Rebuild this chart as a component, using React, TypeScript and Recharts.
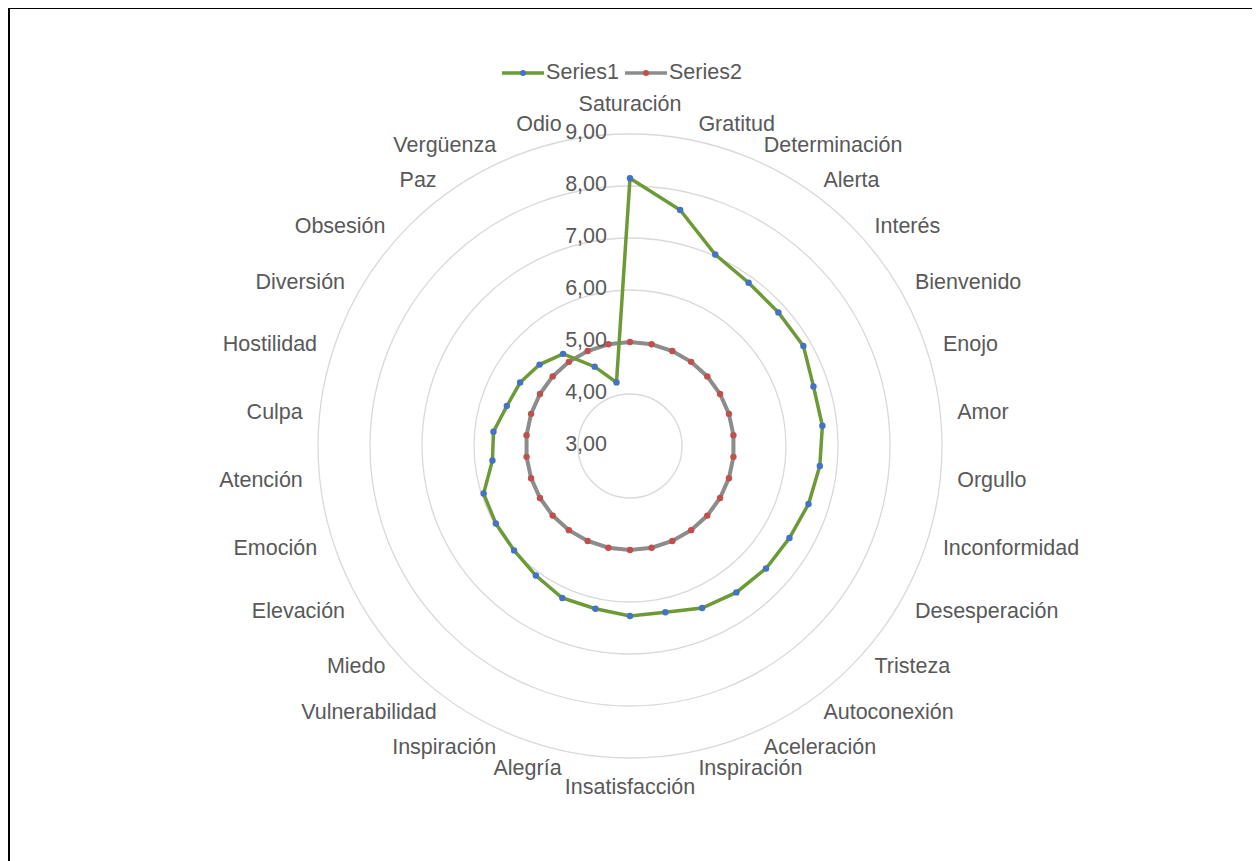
import React from 'react'
import { RadarChart, Radar, PolarGrid, PolarAngleAxis, PolarRadiusAxis, Legend } from 'recharts'

// categories clockwise from the top
const categories = [
  'Saturación', 'Gratitud', 'Determinación', 'Alerta', 'Interés', 'Bienvenido',
  'Enojo', 'Amor', 'Orgullo', 'Inconformidad', 'Desesperación', 'Tristeza',
  'Autoconexión', 'Aceleración', 'Inspiración', 'Insatisfacción', 'Alegría', 'Inspiración',
  'Vulnerabilidad', 'Miedo', 'Elevación', 'Emoción', 'Atención', 'Culpa',
  'Hostilidad', 'Diversión', 'Obsesión', 'Paz', 'Vergüenza', 'Odio',
]

const series1 = [
  8.15, 7.64, 7.03, 6.88, 6.84, 6.85,
  6.71, 6.72, 6.67, 6.61, 6.54, 6.52,
  6.48, 6.41, 6.27, 6.27, 6.2, 6.2,
  6.08, 6.0, 5.98, 5.96, 5.66, 5.64,
  5.49, 5.44, 5.34, 5.19, 4.67, 4.25,
]

const series2 = [
  5, 5, 5, 5, 5, 5,
  5, 5, 5, 5, 5, 5,
  5, 5, 5, 5, 5, 5,
  5, 5, 5, 5, 5, 5,
  5, 5, 5, 5, 5, 5,
]

const radiusTicks = [3, 4, 5, 6, 7, 8, 9]

const data = categories.map((name, i) => ({ key: i, name, s1: series1[i], s2: series2[i] }))

const FONT = '"Liberation Sans", Arial, sans-serif'
const TEXT = '#595959'
const GREEN = '#6b9a36'
const GRAY = '#8c8c8c'
const BLUE = '#4472c4'
const RED = '#c0504d'

const legendItems = [
  { label: 'Series1', line: GREEN, dot: BLUE },
  { label: 'Series2', line: GRAY, dot: RED },
]

const AngleTick = (props: any) => {
  const { x, y, payload, textAnchor } = props
  const rad = (payload.coordinate * Math.PI) / 180
  let dy = 0
  if (textAnchor === 'middle') dy = Math.sin(rad) > 0 ? -13 : 12
  return (
    <text x={x} y={y} dy={dy} textAnchor={textAnchor} dominantBaseline="central"
      fill={TEXT} fontSize={21.5} fontFamily={FONT}>
      {categories[payload.index] ?? payload.value}
    </text>
  )
}

const RadiusTick = (props: any) => {
  const { x, y, payload } = props
  return (
    <text x={x - 23} y={y - 2} textAnchor="end" dominantBaseline="central"
      fill={TEXT} fontSize={21.5} fontFamily={FONT}>
      {Number(payload.value).toFixed(2).replace('.', ',')}
    </text>
  )
}

const makeDot = (color: string) => (p: any) => (
  <circle key={`d-${p.index}`} cx={p.cx} cy={p.cy} r={3.2} fill={color} stroke="none" />
)

const LegendContent = () => (
  <div style={{ display: 'flex', justifyContent: 'center', gap: 6, fontFamily: FONT, fontSize: 21.5, color: TEXT }}>
    {legendItems.map((it) => (
      <div key={it.label} style={{ display: 'flex', alignItems: 'center' }}>
        <svg width={42} height={12}>
          <line x1={0} y1={6} x2={42} y2={6} stroke={it.line} strokeWidth={3.5} />
          <circle cx={21} cy={6} r={3} fill={it.dot} />
        </svg>
        <span style={{ marginLeft: 2 }}>{it.label}</span>
      </div>
    ))}
  </div>
)

export default function App() {
  return (
    <div style={{ position: 'relative', width: 1252, height: 853 }}>
      <RadarChart width={1252} height={853} data={data} cx={622} cy={438} outerRadius={312} innerRadius={0}>
        <PolarGrid gridType="circle" radialLines={false} stroke="#d9d9d9" strokeWidth={1.3} />
        <PolarAngleAxis dataKey="key" tickSize={17} tickLine={false} axisLine={false} tick={<AngleTick />} />
        <PolarRadiusAxis angle={90} domain={[3, 9]} ticks={radiusTicks} tickCount={7}
          axisLine={false} tickLine={false} tick={<RadiusTick />} />
        <Radar dataKey="s2" stroke={GRAY} strokeWidth={4} fill="none" fillOpacity={0}
          dot={makeDot(RED)} isAnimationActive={false} />
        <Radar dataKey="s1" stroke={GREEN} strokeWidth={3.5} fill="none" fillOpacity={0}
          dot={makeDot(BLUE)} isAnimationActive={false} />
        <Legend verticalAlign="top" content={<LegendContent />}
          wrapperStyle={{ top: 52, left: -12, width: 1252 }} />
      </RadarChart>
      <div style={{ position: 'absolute', left: 0, top: -1, width: '100%', height: '100%',
        borderTop: '2px solid #000', borderLeft: '2px solid #000', pointerEvents: 'none' }} />
    </div>
  )
}
